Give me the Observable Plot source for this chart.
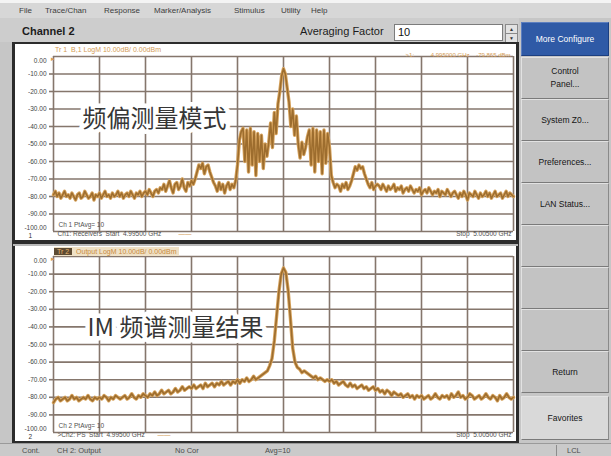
<!DOCTYPE html>
<html>
<head>
<meta charset="utf-8">
<script src="https://cdn.jsdelivr.net/npm/d3@7"></script>
<script src="https://cdn.jsdelivr.net/npm/@observablehq/plot@0.6"></script>
<style>
html,body{margin:0;padding:0;background:#c8c8c8;}
#app{position:relative;width:611px;height:456px;overflow:hidden;background:#c6c6c6;font-family:"Liberation Sans",Arial,sans-serif;color:#222;}
.abs{position:absolute;white-space:nowrap;}
.menu{position:absolute;top:6px;font-size:8px;color:#3d3d3d;}
.btn{position:absolute;left:521px;width:86px;background:#c3c3c3;border-top:1px solid #e2e2e2;border-left:1px solid #e2e2e2;border-right:1px solid #8a8a8a;border-bottom:1px solid #7a7a7a;display:flex;align-items:center;justify-content:center;text-align:center;font-size:8.5px;color:#151515;line-height:13px;}
.stat{position:absolute;top:446px;font-size:7.5px;color:#4a4a4a;}
.panel{position:absolute;left:15px;width:501px;background:#ffffff;}
.panel svg{display:block;}
</style>
</head>
<body>
<div id="app"></div>
<script>
// ---------- data ----------
const startGHz = 4.995;
const stopGHz = 5.005;
const yTicks = [0, -10, -20, -30, -40, -50, -60, -70, -80, -90, -100];
const xGridGHz = [4.995, 4.996, 4.997, 4.998, 4.999, 5.000, 5.001, 5.002, 5.003, 5.004, 5.005];

// Upper trace (Tr 1, B,1 LogM), dBm, uniform sweep from start to stop
const upperDb = [
-79,-77,-80,-78,-81,-79,-77,-80,-79,-81,
-78,-80,-82,-79,-78,-81,-80,-77,-79,-81,
-80,-78,-82,-79,-80,-78,-81,-79,-77,-80,
-79,-81,-78,-80,-79,-77,-80,-78,-81,-79,
-78,-80,-77,-79,-81,-78,-79,-77,-80,-78,
-77,-79,-76,-78,-80,-77,-76,-78,-75,
-76,-73,-77,-74,-71,-75,-78,-73,-72,-76,
-74,-70,-75,-77,-72,-74,-71,-73,
-70,-66,-62,-64,-61,-67,-63,-62,-66,-69,-72,
-74,-77,-72,-76,-73,-78,-74,-72,-76,-73,-75,-71,
-62,-48,-43,
-41,-60,-42,-66,-41,-62,-43,-68,-44,-60,-45,-64,
-50,-57,-49,
-38,-52,-32,-44,-27,-20,
-11,-7,-10,-18,
-26,-40,-30,-45,-34,
-50,-58,-49,-56,-52,-46,
-42,-62,-41,-66,-42,-60,-43,-67,-42,-61,-44,
-52,-68,-72,-75,-73,
-74,-77,-73,-75,-72,-76,-74,-71,
-67,-63,-65,-62,-64,-63,-67,-70,
-73,-75,-72,-76,-74,-73,
-74,-76,-73,-75,-77,-74,-76,-75,-73,-77,
-75,-76,-74,-78,-76,-75,-77,-74,-76,-78,
-76,-77,-75,-79,-77,-76,-78,-75,-77,-79,
-77,-78,-76,-80,-77,-78,-79,-76,-78,-80,
-78,-77,-79,-81,-78,-80,-77,-79,-82,-78,
-79,-80,-77,-79,-81,-78,-80,-79,-77,-80,
-78,-81,-79,-77,-80,-79,-78,-81,-79,-77,
-80,-78,-79,-80
];

// Lower trace (Tr 2, Output LogM), dBm, uniform sweep from start to stop
const lowerDb = [
-83,-81,-80,-82,-81,-80,-82,-81,-79,-81,
-80,-82,-81,-80,-81,-79,-81,-82,-80,-81,
-80,-81,-79,-80,-82,-80,-81,-79,-80,-81,
-80,-79,-81,-80,-78,-80,-81,-79,-80,-78,
-79,-80,-78,-79,-77,-79,-78,-76,-78,-77,
-76,-78,-77,-75,-77,-76,-74,-76,-75,-74,
-75,-73,-75,-74,-73,-75,-72,-74,-73,-72,
-74,-72,-73,-71,-73,-72,-71,-73,-71,-72,
-70,-72,-70,-71,-69,-71,-70,-68,-70,-69,
-68,-67,-66,-65,-62,-58,-48,-34,-20,-10,
-6.5,
-9,-19,-35,-52,-60,-63,-64,-66,-65,
-66,-67,-68,-69,-68,-70,-69,-70,-71,-70,
-71,-70,-72,-71,-73,-72,-71,-73,-74,-72,
-74,-73,-75,-74,-73,-75,-74,-76,-75,-74,
-76,-75,-77,-76,-78,-76,-77,-79,-77,-78,
-79,-78,-80,-79,-78,-80,-79,-81,-79,-80,
-79,-81,-80,-79,-81,-80,-78,-80,-81,-79,
-80,-79,-81,-78,-80,-79,-77,-80,-79,-81,
-80,-78,-79,-81,-80,-79,-81,-80,-78,-80,
-81,-79,-80,-82,-79,-81,-80,-78,-80,-81,-80
];

const menuItems = ["File", "Trace/Chan", "Response", "Marker/Analysis", "Stimulus", "Utility", "Help"];
const menuLeft = [19, 45, 104, 154, 234, 281, 311];
const buttonLabels = ["Control<br>Panel...", "System Z0...", "Preferences...", "LAN Status...", "", "", "", "Return"];
const statusItems = ["Cont.", "CH 2:  Output", "No Cor", "Avg=10", "LCL"];
const statusLeft = [22, 57, 175, 265, 567];

// ---------- styles ----------
const gridColor = "#85766c";
const traceGlow = "#d6a35e";
const traceCore = "#9d6d2e";
const labelOrange = "#d49b55";
const smallGray = "#505050";
const fontSmall = "Liberation Sans, Arial, sans-serif";
const fontCJK = "Noto Sans CJK SC, sans-serif";

// ---------- chrome ----------
const app = document.getElementById("app");
function el(html) { const t = document.createElement("template"); t.innerHTML = html.trim(); const n = t.content.firstChild; app.appendChild(n); return n; }

el(`<div class="abs" style="left:0;top:0;width:611px;height:3px;background:#f4f4f4"></div>`);
el(`<div class="abs" style="left:0;top:3px;width:611px;height:15px;background:#d7d7d7"></div>`);
menuItems.forEach((m, i) => el(`<div class="menu" style="left:${menuLeft[i]}px">${m}</div>`));
el(`<div class="abs" style="left:0;top:18px;width:519px;height:24px;background:#cdcdcd"></div>`);
el(`<div class="abs" style="left:22px;top:25px;font-size:11px;font-weight:600;color:#1c1c1c">Channel 2</div>`);
el(`<div class="abs" style="left:300px;top:25px;font-size:11px;color:#1c1c1c">Averaging Factor</div>`);
el(`<div class="abs" style="left:394px;top:24px;width:104px;height:15px;background:#fff;border:1px solid #7c7c7c;font-size:11px;line-height:15px;padding-left:3px;color:#111">10</div>`);
el(`<div class="abs" style="left:505px;top:24px;width:11px;height:8px;background:#e2e2e2;border:1px solid #8a8a8a;font-size:5px;line-height:8px;text-align:center;color:#333">▲</div>`);
el(`<div class="abs" style="left:505px;top:33px;width:11px;height:8px;background:#e2e2e2;border:1px solid #8a8a8a;font-size:5px;line-height:8px;text-align:center;color:#333">▼</div>`);

// right-side softkeys
el(`<div class="btn" style="top:22px;height:32px;background:#2f5aa6;border-color:#5c7fc0 #1c3f80 #1c3f80 #5c7fc0;color:#fff;font-weight:400">More Configure</div>`);
const btnTops = [57, 99, 141, 183, 225, 267, 309, 351];
buttonLabels.forEach((b, i) => el(`<div class="btn" style="top:${btnTops[i]}px;height:40px">${b}</div>`));
el(`<div class="btn" style="top:396px;height:42px;background:#d9d9d9">Favorites</div>`);

// chart frame
el(`<div class="abs" style="left:12px;top:42px;width:507px;height:401px;background:#2c2c2c"></div>`);
el(`<div class="abs" style="left:13px;top:244px;width:505px;height:2px;background:#b9b9b9"></div>`);

// status bar
el(`<div class="abs" style="left:0;top:443px;width:611px;height:13px;background:#cacaca;border-top:1px solid #9a9a9a"></div>`);
statusItems.forEach((s, i) => el(`<div class="stat" style="left:${statusLeft[i]}px">${s}</div>`));
el(`<div class="abs" style="left:556px;top:445px;width:1px;height:11px;background:#8c8c8c"></div>`);

// ---------- plots ----------
function toRows(arr) {
  const step = (stopGHz - startGHz) / (arr.length - 1);
  return arr.map((db, i) => ({f: startGHz + i * step, db}));
}
const fmt = d => d.toFixed(2);

function makePanel(o) {
  const mid = yTicks.filter(d => d !== 0 && d !== -100);
  const small = {fontSize: 6.5, fill: smallGray, fontFamily: fontSmall};
  const marks = [
    Plot.ruleX(xGridGHz, {stroke: gridColor, strokeWidth: 1.6}),
    Plot.ruleY(yTicks, {stroke: gridColor, strokeWidth: 1.6}),
    Plot.axisY(mid, {tickSize: 4, tickPadding: 3, fontSize: 6.5, tickFormat: fmt, stroke: gridColor, strokeWidth: 1.6, fill: "#444", label: null}),
    Plot.text([0], {y: d => d, frameAnchor: "left", dx: -7, dy: 4, text: fmt, textAnchor: "end", fontSize: 6.5, fill: "#444"}),
    Plot.text([-100], {y: d => d, frameAnchor: "left", dx: -7, dy: -4, text: fmt, textAnchor: "end", fontSize: 6.5, fill: "#444"}),
    Plot.text(["▸"], {frameAnchor: "top-left", dx: -3, dy: 0, fontSize: 7, fill: labelOrange}),
    Plot.text([o.annotation], {frameAnchor: "top-left", dx: o.annoDx, dy: o.annoDy, textAnchor: "start", lineAnchor: "middle", fontSize: 24, fontFamily: fontCJK, fill: "#363636", stroke: "white", strokeWidth: 9, paintOrder: "stroke"}),
    Plot.line(o.rows, {x: "f", y: "db", stroke: traceGlow, strokeWidth: 3.4, strokeLinejoin: "round"}),
    Plot.line(o.rows, {x: "f", y: "db", stroke: traceCore, strokeWidth: 1.6, strokeLinejoin: "round"}),
    Plot.text([o.avgText], {frameAnchor: "bottom-left", dx: 5, dy: -5, textAnchor: "start", ...small}),
    Plot.text([o.startText], {frameAnchor: "bottom-left", dx: 4, dy: 4.5, textAnchor: "start", ...small}),
    Plot.text(["——"], {frameAnchor: "bottom-left", dx: o.dashDx, dy: 4.5, textAnchor: "start", fontSize: 6.5, fill: labelOrange}),
    Plot.text([o.chanNum], {frameAnchor: "bottom-left", dx: -25, dy: 6, textAnchor: "start", fontSize: 6.5, fill: "#333", fontFamily: fontSmall}),
    Plot.text(["Stop  5.00500 GHz"], {frameAnchor: "bottom-right", dx: -2, dy: 4.5, textAnchor: "end", ...small})
  ];
  if (o.markerText) marks.push(Plot.text([o.markerText], {frameAnchor: "top-right", dx: -3, dy: -4, textAnchor: "end", fontSize: 6, fill: labelOrange, fontFamily: fontSmall}));
  return Plot.plot({
    width: 501, height: o.height,
    marginLeft: 38, marginRight: 3, marginTop: o.marginTop, marginBottom: 9,
    x: {domain: [startGHz, stopGHz], axis: null},
    y: {domain: [-100, 0], axis: null},
    style: {background: "transparent", fontFamily: fontSmall},
    marks
  });
}

const upperDiv = el(`<div class="panel" style="top:44px;height:196px"></div>`);
upperDiv.appendChild(makePanel({
  rows: toRows(upperDb), height: 196, marginTop: 12,
  annotation: "频偏测量模式", annoDx: 29, annoDy: 63,
  avgText: "Ch 1 PtAvg= 10", startText: "Ch1: Receivers  Start  4.99500 GHz", dashDx: 125,
  chanNum: "1", markerText: ">1:          4.995000 GHz    -79.865 dBm"
}));
const lowerDiv = el(`<div class="panel" style="top:246px;height:195px"></div>`);
lowerDiv.appendChild(makePanel({
  rows: toRows(lowerDb), height: 195, marginTop: 10,
  annotation: "IM 频谱测量结果", annoDx: 34, annoDy: 72,
  avgText: "Ch 2 PtAvg= 10", startText: ">Ch2: PS  Start  4.99500 GHz", dashDx: 104,
  chanNum: "2", markerText: null
}));

// trace titles
el(`<div class="abs" style="left:55px;top:45px;font-size:7px;line-height:9px;color:${labelOrange}">Tr 1&nbsp;&nbsp;B,1 LogM 10.00dB/ 0.00dBm</div>`);
el(`<div class="abs" style="left:54px;top:247px;font-size:7px;line-height:9px;color:#c98a3c;background:#efe1c6;padding-right:3px"><span style="background:#5d4b33;color:#e8b46f;padding:0 3px">Tr 2</span>&nbsp;&nbsp;Output LogM 10.00dB/ 0.00dBm</div>`);
</script>
</body>
</html>
